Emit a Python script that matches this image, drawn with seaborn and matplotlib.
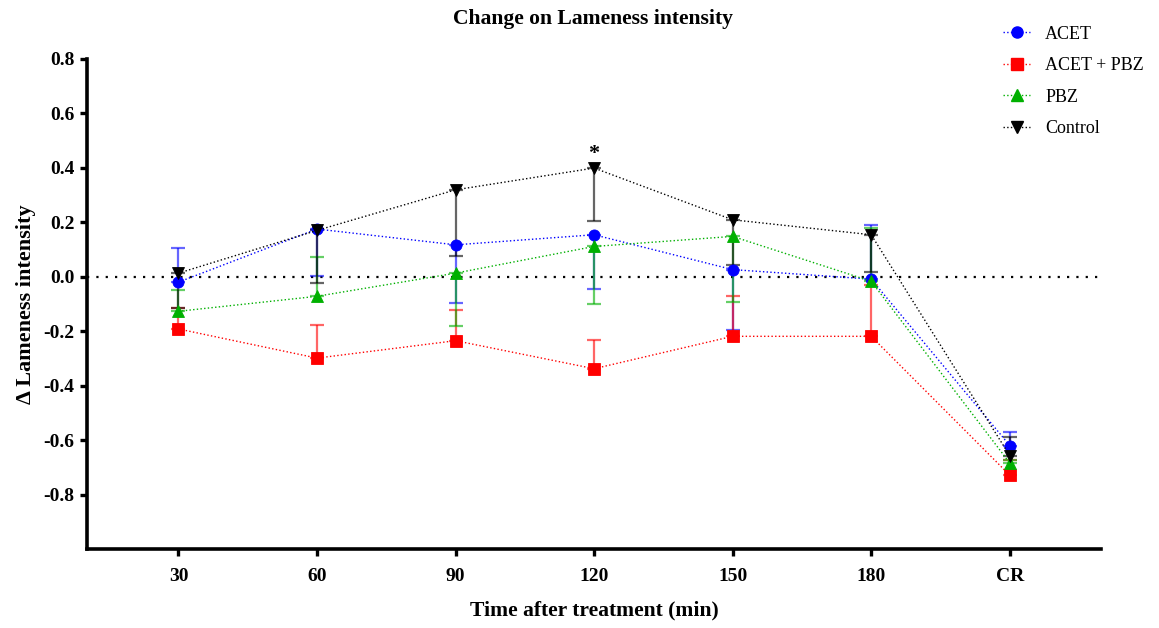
import numpy as np
import pandas as pd
import matplotlib
matplotlib.use("Agg")
import matplotlib.pyplot as plt
import seaborn as sns
from matplotlib.lines import Line2D

categories = ["30", "60", "90", "120", "150", "180", "CR"]
groups = ["ACET", "ACET + PBZ", "PBZ", "Control"]

acet = [-0.02, 0.175, 0.117, 0.154, 0.026, -0.009, -0.620]
acet_pbz = [-0.192, -0.299, -0.235, -0.338, -0.219, -0.219, -0.729]
pbz = [-0.127, -0.072, 0.013, 0.111, 0.148, -0.017, -0.684]
control = [0.013, 0.17, 0.319, 0.399, 0.209, 0.154, -0.657]

# error bars (lower, upper) as drawn
acet_lo = [0.0, 0.172, 0.214, 0.199, 0.221, 0.0, 0.0]
acet_hi = [0.125, 0.0, 0.0, 0.0, 0.0, 0.200, 0.049]
acet_pbz_lo = [0.0, 0.0, 0.0, 0.0, 0.0, 0.0, 0.0]
acet_pbz_hi = [0.077, 0.123, 0.111, 0.107, 0.149, 0.190, 0.055]
pbz_lo = [0.0, 0.0, 0.193, 0.211, 0.242, 0.0, 0.0]
pbz_hi = [0.079, 0.143, 0.0, 0.0, 0.0, 0.197, 0.010]
control_lo = [0.128, 0.193, 0.244, 0.196, 0.165, 0.137, 0.0]
control_hi = [0.0, 0.0, 0.0, 0.0, 0.0, 0.0, 0.069]

series = {"ACET": (acet, acet_lo, acet_hi),
          "ACET + PBZ": (acet_pbz, acet_pbz_lo, acet_pbz_hi),
          "PBZ": (pbz, pbz_lo, pbz_hi),
          "Control": (control, control_lo, control_hi)}

colors = {"ACET": "#0000FF", "ACET + PBZ": "#FF0000", "PBZ": "#00B000", "Control": "#000000"}
markers = {"ACET": "o", "ACET + PBZ": "s", "PBZ": "^", "Control": "v"}

pos = np.arange(len(categories))
rows = []
for g in groups:
    for i, v in enumerate(series[g][0]):
        rows.append({"pos": pos[i], "value": v, "group": g})
df = pd.DataFrame(rows)

sns.set_style("ticks")
plt.rcParams["font.family"] = ["Liberation Serif", "DejaVu Serif"]
plt.rcParams["text.color"] = "black"
plt.rcParams["axes.labelcolor"] = "black"
plt.rcParams["xtick.color"] = "black"
plt.rcParams["ytick.color"] = "black"
plt.rcParams["axes.edgecolor"] = "black"

fig = plt.figure(figsize=(11.59, 6.28), dpi=100)
ax = fig.add_axes([0.0751, 0.1258, 0.875, 0.7805])

ax.axhline(0, color="black", lw=1.6, ls=(0, (1, 3.2)), zorder=1)

sns.lineplot(data=df, x="pos", y="value", hue="group", style="group",
             hue_order=groups, style_order=groups, palette=colors,
             markers=markers, dashes=False, markersize=8, markeredgewidth=0.6,
             linewidth=1.0, ax=ax, zorder=3, legend=False)
for line in list(ax.lines):
    if line.get_marker() not in (None, "None", ""):
        line.set_linestyle(":")
        line.set_markeredgecolor(line.get_color())

for g in groups:
    vals, lo, hi = series[g]
    ax.errorbar(pos, vals, yerr=[lo, hi], fmt="none", ecolor=colors[g],
                elinewidth=1.6, capsize=5, capthick=1.6, alpha=0.6, zorder=2)

ax.text(3, 0.415, "*", ha="center", va="bottom", fontsize=16, fontweight="bold")

ax.set_xlim(-0.66, 6.66)
ax.set_ylim(-1.0, 0.8)
yt = [-0.8, -0.6, -0.4, -0.2, 0.0, 0.2, 0.4, 0.6, 0.8]
ax.set_yticks(yt)
ax.set_yticklabels([f"{t:.1f}" for t in yt])
ax.set_xticks(pos)
ax.set_xticklabels(categories)
for lab in ax.get_xticklabels() + ax.get_yticklabels():
    lab.set_fontweight("bold")
    lab.set_fontsize(14)
ax.tick_params(width=2.4, length=5, direction="out")
ax.tick_params(axis="x", pad=9)
ax.tick_params(axis="y", pad=4)
sns.despine(ax=ax)
for s in ["left", "bottom"]:
    ax.spines[s].set_linewidth(2.6)

ax.set_xlabel("Time after treatment (min)", fontsize=15.6, fontweight="bold", labelpad=11)
ax.set_ylabel("Δ Lameness intensity", fontsize=16, fontweight="bold", labelpad=5)
fig.suptitle("Change on Lameness intensity", x=0.512, y=0.985, fontsize=15.6, fontweight="bold")

handles = [Line2D([0], [0], color=colors[g], ls=":", lw=1.0, marker=markers[g],
                  markersize=8, markeredgecolor=colors[g]) for g in groups]
fig.legend(handles, groups, loc="upper left", bbox_to_anchor=(1003 / 1159, 0.959),
           frameon=False, fontsize=13, handlelength=1.5, labelspacing=0.8,
           handletextpad=0.83, borderpad=0, borderaxespad=0)

fig.savefig("out.png", dpi=100)
